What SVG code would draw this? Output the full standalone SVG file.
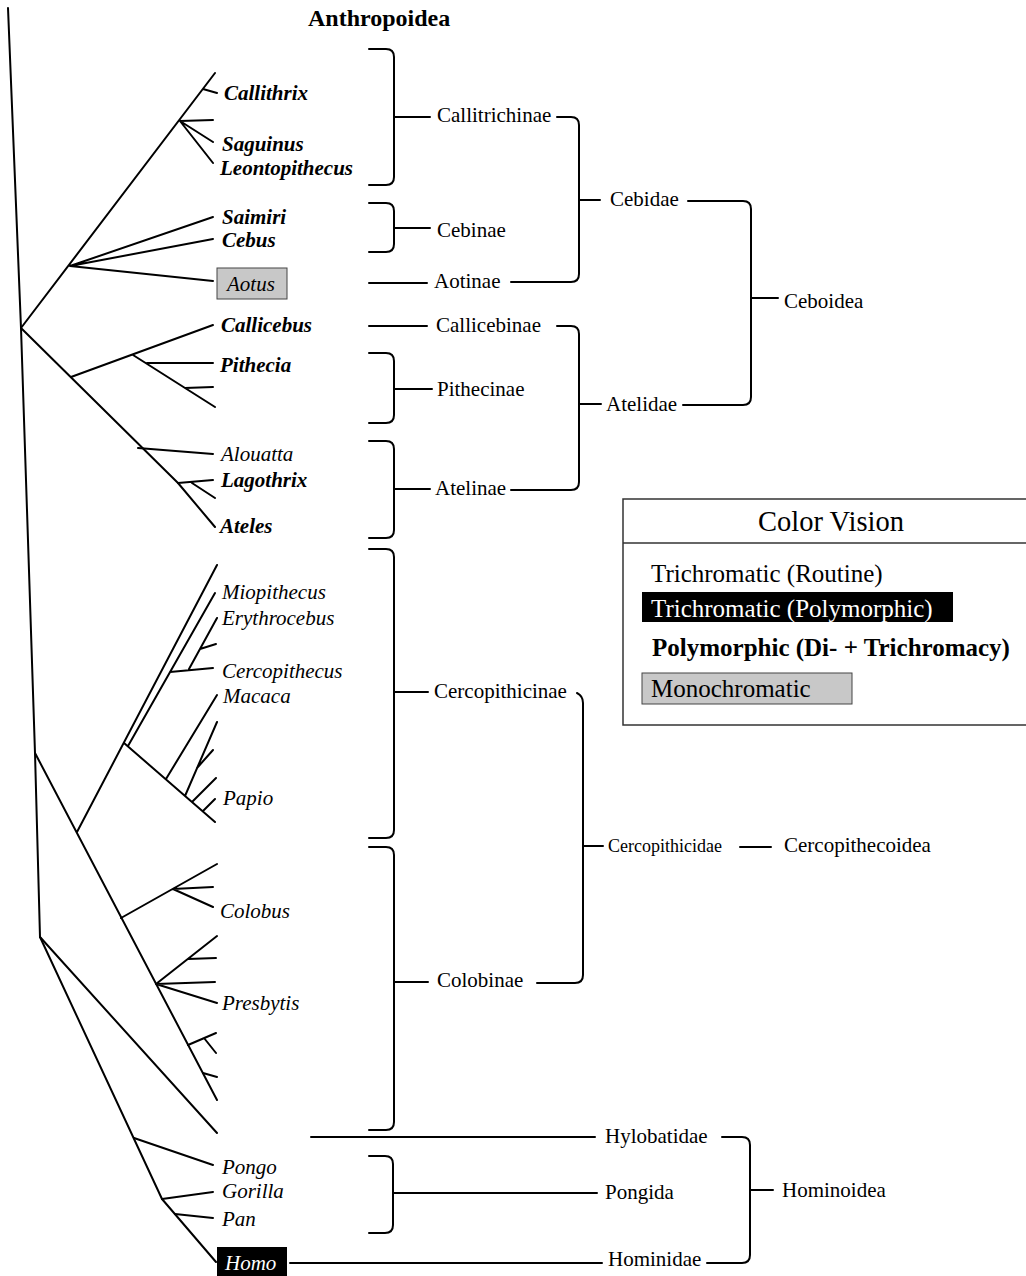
<svg xmlns="http://www.w3.org/2000/svg" width="1026" height="1276" viewBox="0 0 1026 1276">
<style>
text{font-family:"Liberation Serif","Times New Roman",serif;font-size:21px;fill:#000}
.i{font-style:italic}
.b{font-weight:bold}
.w{fill:#fff}
.lg{font-size:25px}
.ln{fill:none;stroke:#000;stroke-width:2;stroke-linecap:round;stroke-linejoin:round}
.gb{fill:#c8c8c8;stroke:#444;stroke-width:1}
</style>
<rect width="1026" height="1276" fill="#fff"/>
<g id="title"><text x="308" y="26" class="b" style="font-size:24px">Anthropoidea</text></g>
<g id="connectors" class="ln">
<polyline points="8,8 21,328 35,753 40,937"/>
<path d="M21,328L215,73M203,89L217,93M180,121L213,120M180,121L213,142M180,121L213,163M70,266L213,217M70,266L213,239M70,266L213,281"/>
<polyline points="21,328 178,483 215,527"/>
<path d="M71,377L213,325M133,355L215,407M147,363L213,363M185,388L213,387M138,448L213,454M178,483L213,480M192,483L215,498"/>
<path d="M35,753L217,1100M77,832L217,565M124,743L215,822M128,746L215,593M170,672L213,668M189,669L217,618M200,649L216,644M166,779L217,695M185,796L217,722M197,768L213,750M192,802L216,778M203,811L215,799"/>
<path d="M121,918L217,864M173,889L213,887M173,889L213,907M156,984L217,936M188,959L216,958M156,984L215,982M156,984L217,1003M188,1045L216,1033M204,1038L216,1053M203,1073L217,1077"/>
<path d="M40,937L217,1133M134,1138L213,1165M162,1199L213,1192M175,1214L213,1218"/>
<polyline points="40,937 162,1199 216,1262"/>
<path d="M369,49H386Q394,49 394,57V177Q394,185 386,185H369M394,117H430"/>
<path d="M369,203H386Q394,203 394,211V244Q394,252 386,252H369M394,228H430"/>
<path d="M369,283H427M369,326H427"/>
<path d="M369,353H386Q394,353 394,361V415Q394,423 386,423H369M394,389H432"/>
<path d="M369,441H386Q394,441 394,449V530Q394,538 386,538H369M394,489H430"/>
<path d="M369,549H386Q394,549 394,557V830Q394,838 386,838H369M394,692H428"/>
<path d="M369,847H386Q394,847 394,855V1122Q394,1130 386,1130H369M394,982H428"/>
<path d="M311,1137H595"/>
<path d="M369,1156H385Q393,1156 393,1164V1225Q393,1233 385,1233H369M393,1193H597"/>
<path d="M290,1263H602"/>
<path d="M557,117H571Q579,117 579,125V274Q579,282 571,282H511M579,200H600"/>
<path d="M557,326H571Q579,326 579,334V482Q579,490 571,490H511M579,404H601"/>
<path d="M688,201H743Q751,201 751,209V397Q751,405 743,405H683M751,298H778"/>
<path d="M577,693Q583,696 583,703V975Q583,983 575,983H537M583,846H603"/>
<path d="M740,847H771"/>
<path d="M722,1137H742Q750,1137 750,1145V1255Q750,1263 742,1263H707M750,1190H773"/>
</g>
<g id="n-callithrix"><text x="224" y="100" class="i b">Callithrix</text></g>
<g id="n-saguinus"><text x="222" y="151" class="i b">Saguinus</text></g>
<g id="n-leontopithecus"><text x="220" y="175" class="i b">Leontopithecus</text></g>
<g id="n-saimiri"><text x="222" y="224" class="i b">Saimiri</text></g>
<g id="n-cebus"><text x="222" y="247" class="i b">Cebus</text></g>
<g id="n-aotus"><rect x="217" y="268" width="70" height="31" class="gb"/><text x="227" y="291" class="i" fill="#222">Aotus</text></g>
<g id="n-callicebus"><text x="221" y="332" class="i b">Callicebus</text></g>
<g id="n-pithecia"><text x="220" y="372" class="i b">Pithecia</text></g>
<g id="n-alouatta"><text x="221" y="461" class="i">Alouatta</text></g>
<g id="n-lagothrix"><text x="221" y="487" class="i b">Lagothrix</text></g>
<g id="n-ateles"><text x="220" y="533" class="i b">Ateles</text></g>
<g id="n-miopithecus"><text x="222" y="599" class="i">Miopithecus</text></g>
<g id="n-erythrocebus"><text x="222" y="625" class="i">Erythrocebus</text></g>
<g id="n-cercopithecus"><text x="222" y="678" class="i">Cercopithecus</text></g>
<g id="n-macaca"><text x="223" y="703" class="i">Macaca</text></g>
<g id="n-papio"><text x="223" y="805" class="i">Papio</text></g>
<g id="n-colobus"><text x="220" y="918" class="i">Colobus</text></g>
<g id="n-presbytis"><text x="222" y="1010" class="i">Presbytis</text></g>
<g id="n-pongo"><text x="222" y="1174" class="i">Pongo</text></g>
<g id="n-gorilla"><text x="222" y="1198" class="i">Gorilla</text></g>
<g id="n-pan"><text x="222" y="1226" class="i">Pan</text></g>
<g id="n-homo"><rect x="217" y="1247" width="70" height="29" fill="#000"/><text x="225" y="1270" class="i w">Homo</text></g>
<g id="n-callitrichinae"><text x="437" y="122">Callitrichinae</text></g>
<g id="n-cebinae"><text x="437" y="237">Cebinae</text></g>
<g id="n-aotinae"><text x="434" y="288">Aotinae</text></g>
<g id="n-cebidae"><text x="610" y="206">Cebidae</text></g>
<g id="n-ceboidea"><text x="784" y="308">Ceboidea</text></g>
<g id="n-callicebinae"><text x="436" y="332">Callicebinae</text></g>
<g id="n-pithecinae"><text x="437" y="396">Pithecinae</text></g>
<g id="n-atelidae"><text x="606" y="411">Atelidae</text></g>
<g id="n-atelinae"><text x="435" y="495">Atelinae</text></g>
<g id="n-cercopithicinae"><text x="434" y="698">Cercopithicinae</text></g>
<g id="n-cercopithicidae"><text x="608" y="852" style="font-size:18px">Cercopithicidae</text></g>
<g id="n-cercopithecoidea"><text x="784" y="852">Cercopithecoidea</text></g>
<g id="n-colobinae"><text x="437" y="987">Colobinae</text></g>
<g id="n-hylobatidae"><text x="605" y="1143">Hylobatidae</text></g>
<g id="n-pongida"><text x="605" y="1199">Pongida</text></g>
<g id="n-hominoidea"><text x="782" y="1197">Hominoidea</text></g>
<g id="n-hominidae"><text x="608" y="1266">Hominidae</text></g>
<g id="legend">
<rect x="623" y="499" width="420" height="226" fill="#fff" stroke="#333" stroke-width="1.5"/>
<line x1="623" y1="543" x2="1026" y2="543" stroke="#333" stroke-width="1.5"/>
<text x="831" y="531" text-anchor="middle" style="font-size:28.5px">Color Vision</text>
<text x="651" y="582" class="lg">Trichromatic (Routine)</text>
<rect x="642" y="592" width="311" height="30" fill="#000"/>
<text x="651" y="617" class="lg w">Trichromatic (Polymorphic)</text>
<text x="652" y="656" class="lg b">Polymorphic (Di- + Trichromacy)</text>
<rect x="642" y="673" width="210" height="31" class="gb"/>
<text x="651" y="697" class="lg" fill="#222">Monochromatic</text>
</g>
</svg>
